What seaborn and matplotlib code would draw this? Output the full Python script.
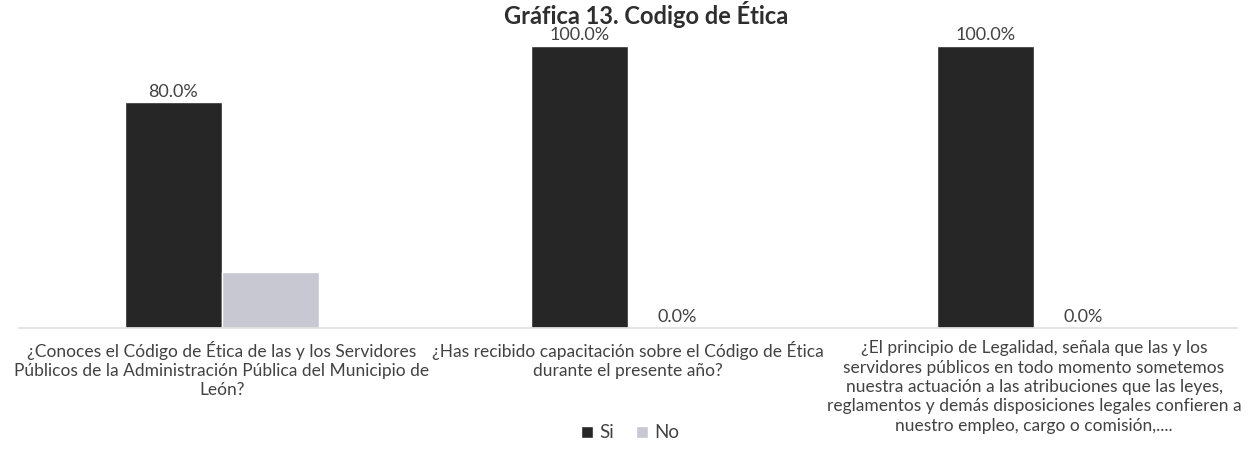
import matplotlib.pyplot as plt
import pandas as pd
import seaborn as sns

# data
preguntas = [
    "¿Conoces el Código de Ética de las y los Servidores\nPúblicos de la Administración Pública del Municipio de\nLeón?",
    "¿Has recibido capacitación sobre el Código de Ética\ndurante el presente año?",
    "¿El principio de Legalidad, señala que las y los\nservidores públicos en todo momento sometemos\nnuestra actuación a las atribuciones que las leyes,\nreglamentos y demás disposiciones legales confieren a\nnuestro empleo, cargo o comisión,....",
]
respuestas = ["Si", "No"]
si_pct = [80.0, 100.0, 100.0]
no_pct = [20.0, 0.0, 0.0]
# the 20% label is not printed in the original
si_labels = ["80.0%", "100.0%", "100.0%"]
no_labels = ["", "0.0%", "0.0%"]

df = pd.DataFrame(
    {
        "pregunta": preguntas * 2,
        "respuesta": ["Si"] * 3 + ["No"] * 3,
        "pct": si_pct + no_pct,
    }
)

sns.set_theme(style="white")
plt.rcParams["font.family"] = ["Lato", "DejaVu Sans"]
TXT = "#424242"

fig = plt.figure(figsize=(12.51, 4.62), dpi=100)
ax = fig.add_axes([19 / 1251, (462 - 328) / 462, (1237 - 19) / 1251, (328 - 46) / 462])

sns.barplot(
    data=df,
    x="pregunta",
    y="pct",
    hue="respuesta",
    hue_order=respuestas,
    palette={"Si": "#262626", "No": "#c8c8d2"},
    width=0.48,
    saturation=1,
    ax=ax,
)

ax.set_ylim(0, 100)
ax.set_xlim(-0.5, 2.5)
ax.set_xlabel("")
ax.set_ylabel("")
ax.set_yticks([])
ax.tick_params(axis="x", length=0, pad=9, labelsize=12.5, labelcolor=TXT)
for lab in ax.get_xticklabels():
    lab.set_linespacing(1.25)
for side in ["top", "left", "right"]:
    ax.spines[side].set_visible(False)
ax.spines["bottom"].set_color("#e0e0e0")

for cont, labs in zip(ax.containers, [si_labels, no_labels]):
    ax.bar_label(cont, labels=labs, padding=2, fontsize=13, color=TXT, clip_on=False)

leg = ax.legend(
    loc="center",
    bbox_to_anchor=(630 / 1251, (462 - 433) / 462),
    bbox_transform=fig.transFigure,
    ncol=2,
    frameon=False,
    fontsize=13.5,
    handlelength=0.65,
    handleheight=0.65,
    handletextpad=0.3,
    columnspacing=1.2,
)
for t in leg.get_texts():
    t.set_color(TXT)

fig.text(646 / 1251, 1 - 1 / 462, "Gráfica 13. Codigo de Ética", ha="center", va="top",
         fontsize=17, fontweight="bold", color="#2e2e2e")

fig.savefig("out.png", dpi=100)
